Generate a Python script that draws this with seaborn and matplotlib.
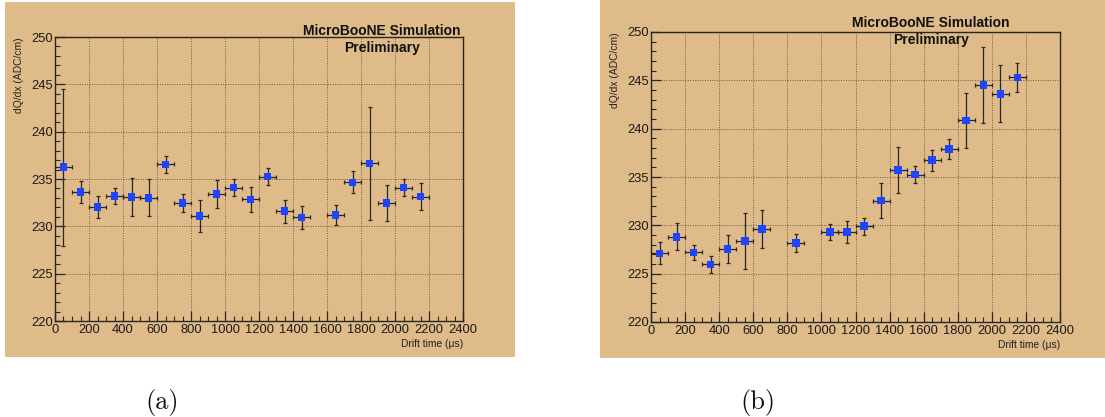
import matplotlib.pyplot as plt
import matplotlib.patches as patches
import numpy as np
import pandas as pd
import seaborn as sns

# Drift time bin centres (us) and dQ/dx values
time_a = [50, 150, 250, 350, 450, 550, 650, 750, 850, 950, 1050,
          1150, 1250, 1350, 1450, 1650, 1750, 1850, 1950, 2050, 2150]
dqdx_a = [236.25, 233.6, 232.05, 233.2, 233.1, 233.0, 236.55, 232.45, 231.1,
          233.4, 234.1, 232.85, 235.25, 231.6, 230.95, 231.2, 234.65, 236.65,
          232.45, 234.1, 233.15]
err_a = [8.3, 1.15, 1.15, 0.85, 2.0, 1.95, 0.9, 0.95, 1.7, 1.5, 0.87,
         1.35, 0.93, 1.23, 1.23, 1.1, 1.16, 6.0, 1.9, 0.93, 1.38]

time_b = [50, 150, 250, 350, 450, 550, 650, 850, 1050, 1150, 1250,
          1350, 1450, 1550, 1650, 1750, 1850, 1950, 2050, 2150]
dqdx_b = [227.1, 228.8, 227.2, 225.95, 227.55, 228.35, 229.6, 228.15, 229.3,
          229.3, 229.9, 232.55, 235.7, 235.25, 236.75, 237.9, 240.85, 244.5,
          243.6, 245.3]
err_b = [1.13, 1.4, 0.78, 0.83, 1.47, 2.9, 1.95, 0.92, 0.8, 1.14, 0.88,
         1.78, 2.37, 0.87, 1.09, 1.07, 2.84, 3.9, 2.95, 1.5]

bin_half_width = 50
x_ticks = list(range(0, 2401, 200))
y_ticks = [220, 225, 230, 235, 240, 245, 250]

tan = '#debb88'
blue = '#1f44ff'
ink = '#2b2620'

sns.set_style('ticks')
plt.rcParams['font.family'] = ['Liberation Sans', 'DejaVu Sans']

fig = plt.figure(figsize=(11.05, 4.17), dpi=100)
fig.patch.set_facecolor('white')

W, H = 1105, 417


def frac(x0, y0, x1, y1):
    # pixel box (top-left origin) -> figure fraction [left, bottom, width, height]
    return [x0 / W, 1 - y1 / H, (x1 - x0) / W, (y1 - y0) / H]


def draw_panel(panel_box, axes_box, x, y, yerr, title_x, title_y, caption, cap_x):
    l, b, w, h = frac(*panel_box)
    fig.patches.append(patches.Rectangle((l, b), w, h, transform=fig.transFigure,
                                         facecolor=tan, edgecolor='none', zorder=-5))
    ax = fig.add_axes(frac(*axes_box))
    ax.set_facecolor(tan)

    ax.errorbar(x, y, xerr=bin_half_width, yerr=yerr, fmt='none',
                ecolor=ink, elinewidth=0.9, capsize=1.6, capthick=0.9, zorder=2)
    df = pd.DataFrame({'t': x, 'v': y})
    sns.scatterplot(data=df, x='t', y='v', marker='s', s=30, color=blue,
                    edgecolor='none', linewidth=0, ax=ax, zorder=3)

    ax.set_xlim(0, 2400)
    ax.set_ylim(220, 250)
    ax.set_xticks(x_ticks)
    ax.set_yticks(y_ticks)
    ax.set_xticks(np.arange(0, 2401, 50), minor=True)
    ax.set_yticks(np.arange(220, 251, 1), minor=True)
    ax.tick_params(which='both', direction='in', colors=ink, labelcolor='#1a1a1a')
    ax.tick_params(which='major', length=7, width=0.9, labelsize=9.3)
    ax.tick_params(axis='y', which='major', pad=1.5)
    ax.tick_params(axis='x', which='major', pad=2.5)
    ax.tick_params(which='minor', length=3.5, width=0.8)
    ax.grid(True, which='major', linestyle=(0, (1, 1.5)), color='#5a4a35',
            linewidth=0.7, alpha=0.85)
    for s in ax.spines.values():
        s.set_color(ink)
        s.set_linewidth(1.0)

    ax.set_xlabel('Drift time (μs)', fontsize=7.4, color='#222222', loc='right',
                  labelpad=2)
    ax.set_ylabel('dQ/dx (ADC/cm)', fontsize=7.4, color='#222222', loc='top',
                  labelpad=5)

    fig.text(title_x / W, 1 - title_y / H, 'MicroBooNE Simulation', ha='center',
             va='center', fontsize=10, fontweight='bold', color='#111111')
    fig.text(title_x / W, 1 - (title_y + 17) / H, 'Preliminary', ha='center',
             va='center', fontsize=10, fontweight='bold', color='#111111')
    fig.text(cap_x / W, 1 - 402 / H, caption, ha='center', va='center',
             fontsize=19, family=['cmr10', 'Liberation Serif'], color='#111111')
    return ax


draw_panel((5, 2, 515, 357), (55, 37, 463, 321), time_a, dqdx_a, err_a,
           382, 31, '(a)', 162)
draw_panel((600, 0, 1105, 358), (651, 32, 1060, 322), time_b, dqdx_b, err_b,
           931, 23, '(b)', 758)

fig.savefig('out.png', dpi=100, facecolor=fig.get_facecolor())
